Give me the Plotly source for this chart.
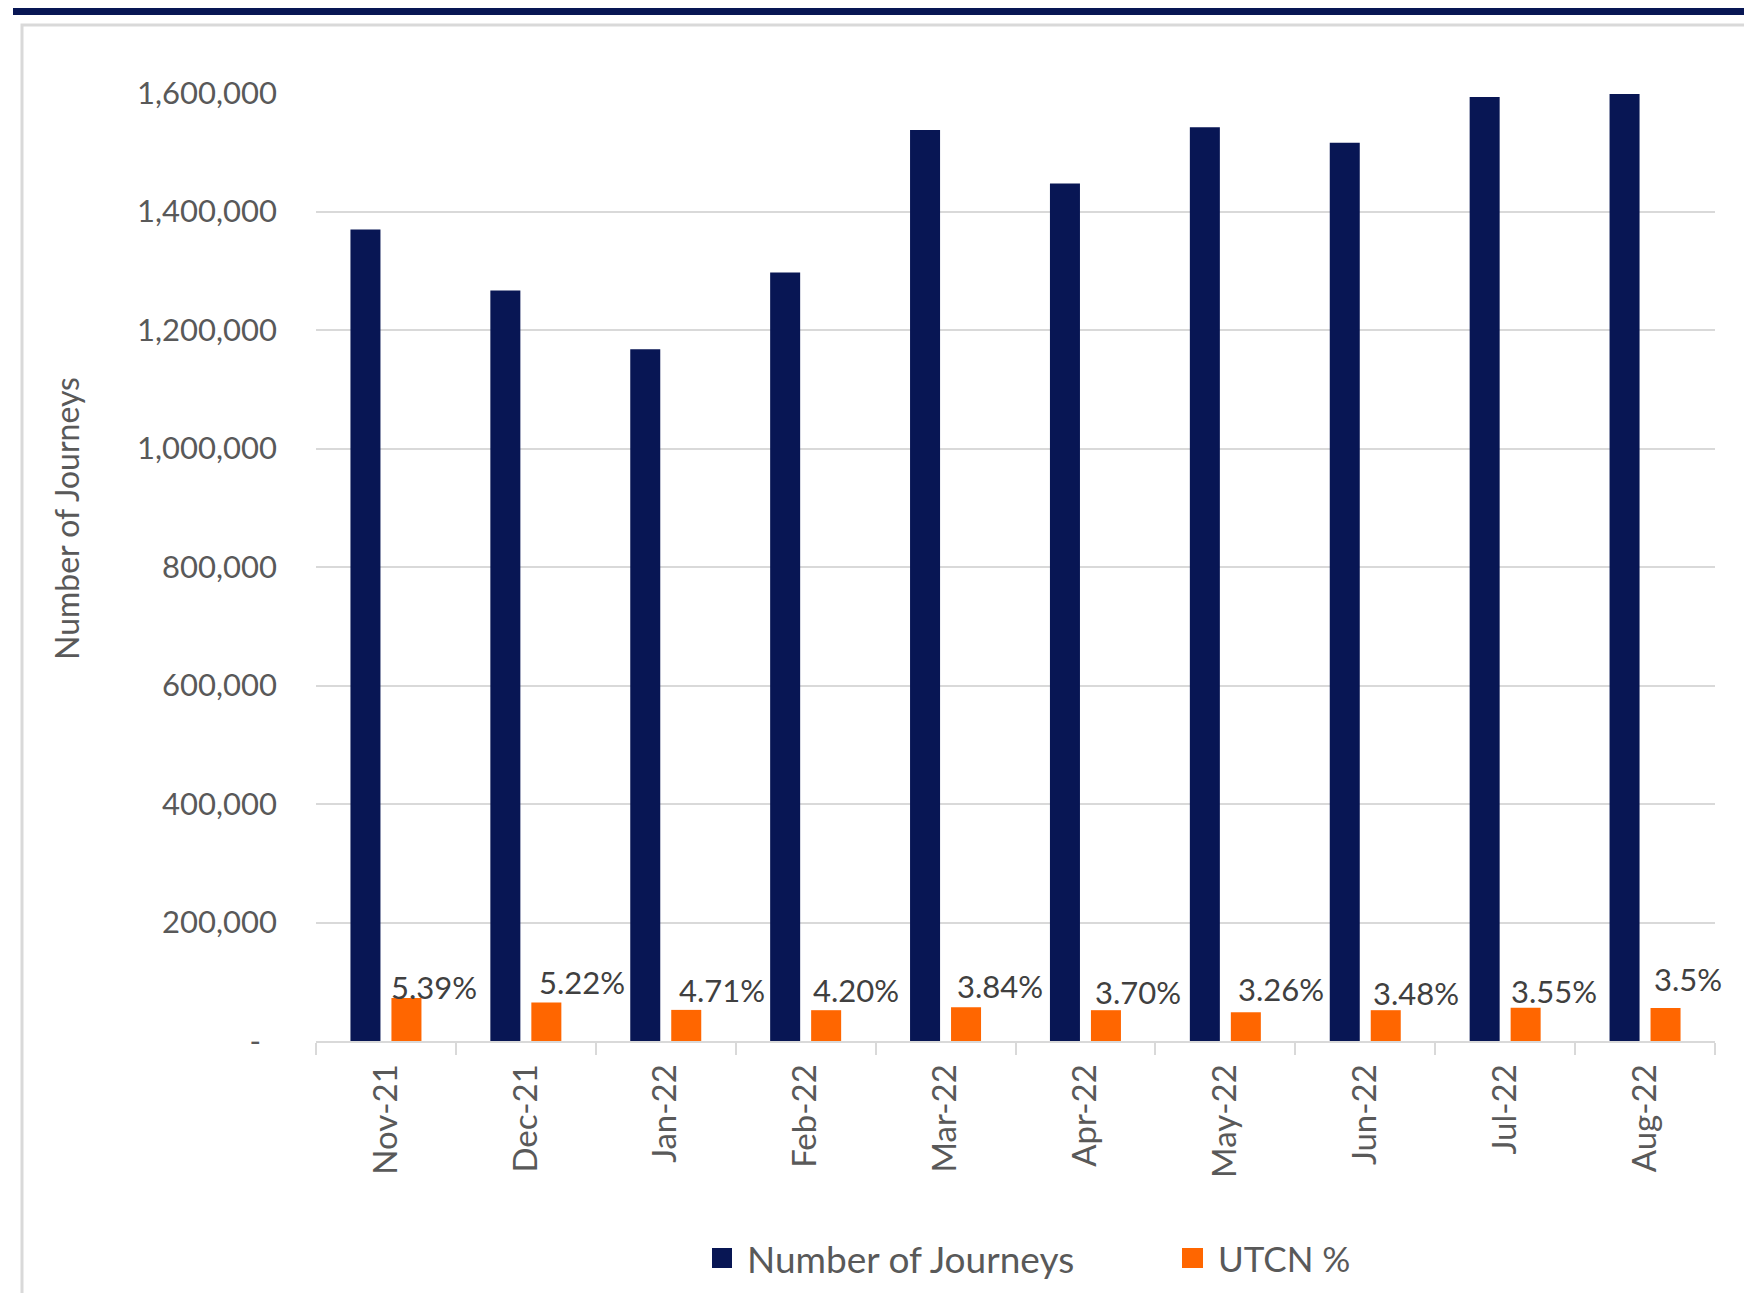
import plotly.graph_objects as go

months = ["Nov-21", "Dec-21", "Jan-22", "Feb-22", "Mar-22", "Apr-22",
          "May-22", "Jun-22", "Jul-22", "Aug-22"]
journeys = [1369600, 1266500, 1167300, 1297000, 1537500, 1447300,
            1542000, 1516000, 1593200, 1598300]
utcn = [72500, 65000, 52500, 52000, 57000, 52000, 48500, 52000, 56000, 55500]
utcn_labels = ["5.39%", "5.22%", "4.71%", "4.20%", "3.84%", "3.70%",
               "3.26%", "3.48%", "3.55%", "3.5%"]
y_ticks = [0, 200000, 400000, 600000, 800000, 1000000, 1200000, 1400000, 1600000]
y_ticktext = ["-\u00a0\u00a0"] + [f"{v:,}" for v in y_ticks[1:]]

# label placement tweaks (pixels) relative to the orange bar tops
label_dx = [28, 36, 36, 30, 34, 32, 35, 30, 28, 22]
label_dy = [11, 20, 20, 20, 21, 18, 23, 17, 17, 29]

NAVY = "#081654"
ORANGE = "#ff6600"
GRID = "#d9d9d9"
TXT = "#595959"
FONT = "Lato"

OFF = 8  # page body margin
W, H = 1752, 1293
# plot area in screen pixels
L, R, T, B = 316, 1715, 93, 1041


def xp(px):
    return (px - L) / (R - L)


def yp(py):
    return (B - py) / (B - T)


fig = go.Figure()
fig.add_trace(go.Bar(x=months, y=journeys, name="Number of Journeys",
                     marker=dict(color=NAVY, line=dict(width=0)), showlegend=False))
fig.add_trace(go.Bar(x=months, y=utcn, name="UTCN %",
                     marker=dict(color=ORANGE, line=dict(width=0)), showlegend=False))

annotations = []
for m, v, lab, dx, dy in zip(months, utcn, utcn_labels, label_dx, label_dy):
    annotations.append(dict(x=m, y=v, xref="x", yref="y", text=lab, showarrow=False,
                            xshift=20.5 + dx, yshift=dy, yanchor="middle", xanchor="center",
                            font=dict(family=FONT, size=31, color="#404040")))

annotations.append(dict(x=xp(67), y=yp(519), xref="paper", yref="paper",
                        text="Number of Journeys", textangle=-90, showarrow=False,
                        xanchor="center", yanchor="middle",
                        font=dict(family=FONT, size=32, color=TXT)))
annotations.append(dict(x=xp(745), y=yp(1258), xref="paper", yref="paper",
                        text="Number of Journeys", showarrow=False,
                        xanchor="left", yanchor="middle",
                        font=dict(family=FONT, size=37, color=TXT)))
annotations.append(dict(x=xp(1216), y=yp(1258), xref="paper", yref="paper",
                        text="UTCN %", showarrow=False,
                        xanchor="left", yanchor="middle",
                        font=dict(family=FONT, size=35, color=TXT)))

shapes = [
    # outer chart frame
    dict(type="rect", xref="paper", yref="paper", x0=xp(22), x1=xp(1800),
         y0=yp(1400), y1=yp(25), line=dict(color=GRID, width=3), layer="below"),
    # navy header band
    dict(type="rect", xref="paper", yref="paper", x0=xp(13), x1=xp(1800),
         y0=yp(15), y1=yp(6), line=dict(width=0), fillcolor=NAVY, layer="above"),
    # cut-off title glyph
    dict(type="circle", xref="paper", yref="paper", x0=xp(256), x1=xp(276),
         y0=yp(13), y1=yp(-12), line=dict(width=0), fillcolor=NAVY, layer="above"),
    # legend swatches
    dict(type="rect", xref="paper", yref="paper", x0=xp(712), x1=xp(732),
         y0=yp(1268), y1=yp(1248), line=dict(width=0), fillcolor=NAVY),
    dict(type="rect", xref="paper", yref="paper", x0=xp(1182), x1=xp(1203),
         y0=yp(1268), y1=yp(1248), line=dict(width=0), fillcolor=ORANGE),
]

fig.update_layout(
    width=W, height=H,
    margin=dict(l=L - OFF, r=W - R + OFF, t=T - OFF, b=H - B + OFF, pad=0),
    paper_bgcolor="white", plot_bgcolor="white",
    barmode="group", bargap=0.414, bargroupgap=0.268,
    annotations=annotations, shapes=shapes,
    font=dict(family=FONT, color=TXT),
)
fig.update_xaxes(
    type="category", range=[-0.5, len(months) - 0.5], autorange=False,
    showgrid=False, showline=True, linecolor=GRID, linewidth=2,
    ticks="outside", tickson="boundaries", ticklen=12, tickcolor=GRID, tickwidth=2,
    tickangle=-90, tickfont=dict(family=FONT, size=33, color=TXT),
    ticklabelstandoff=8,
)
fig.update_yaxes(
    range=[0, 1600000], autorange=False, tickvals=y_ticks, ticktext=y_ticktext,
    showgrid=True, gridcolor=GRID, gridwidth=2, zeroline=False, showline=False,
    ticks="", tickfont=dict(family=FONT, size=31, color=TXT),
    ticklabelstandoff=38,
)

fig.write_html("out.html")
